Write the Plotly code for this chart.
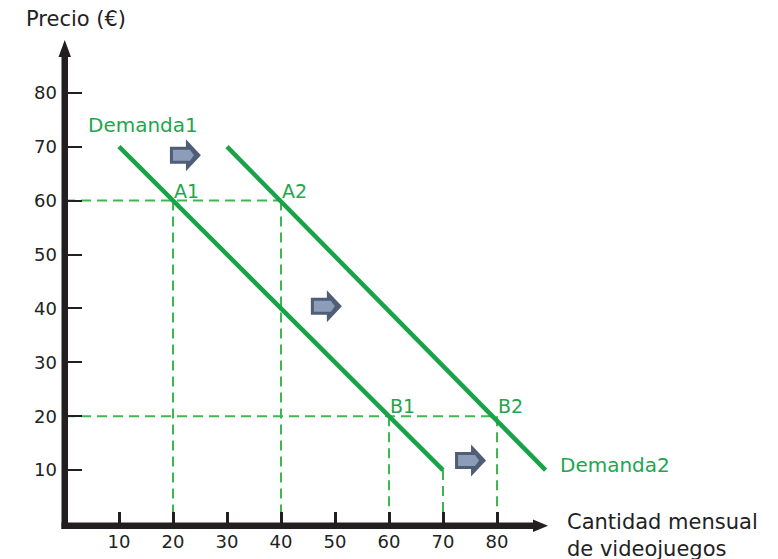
import plotly.graph_objects as go

# ---------------- data ----------------
demand1_q = [10, 70]
demand1_p = [70, 10]
demand2_q = [30, 89]
demand2_p = [70, 10]

point_names = ["A1", "A2", "B1", "B2"]
point_q = [20, 40, 60, 80]
point_p = [60, 60, 20, 20]

x_ticks = [10, 20, 30, 40, 50, 60, 70, 80]
y_ticks = [10, 20, 30, 40, 50, 60, 70, 80]

shift_arrow_q = [22.3, 48.4, 75.1]
shift_arrow_p = [68.4, 40.4, 11.8]

# ---------------- styles ----------------
LINE_GREEN = "#19a349"
DASH_GREEN = "#3cb94e"
TEXT_GREEN = "#1ea64e"
AXIS = "#231f20"
TEXT = "#222222"
FONT = "DejaVu Sans"
ARROW_DARK = "#4f5e76"
ARROW_LIGHT = "#8d9cb8"

BODY = 8  # default page body margin of the html page
W, H = 778 - BODY, 559 - BODY
PL, PT = 65, 38          # plot-area left/top in page pixels
PW, PH = 485, 486        # plot-area size
ML, MT = PL - BODY, PT - BODY
MR, MB = W - ML - PW, H - MT - PH
SX, SY = 5.4, 5.39  # px per data unit
XMAX, YMAX = PW / SX, PH / SY
BOTTOM = PT + PH


def pxx(p):
    return (p - PL) / PW


def pxy(p):
    return (BOTTOM - p) / PH


fig = go.Figure()

# dashed guide lines
levels = {}
for q, p in zip(point_q, point_p):
    levels[p] = max(levels.get(p, 0), q)
dash = dict(color=DASH_GREEN, width=2, dash="10px,6px")
for p, qmax in levels.items():
    fig.add_trace(go.Scatter(x=[0, qmax], y=[p, p], mode="lines", line=dash, hoverinfo="skip"))
for q, p in zip(point_q, point_p):
    fig.add_trace(go.Scatter(x=[q, q], y=[p, 0], mode="lines", line=dash, hoverinfo="skip"))
fig.add_trace(go.Scatter(x=[demand1_q[-1], demand1_q[-1]], y=[demand1_p[-1], 0],
                         mode="lines", line=dash, hoverinfo="skip"))

# demand curves
fig.add_trace(go.Scatter(x=demand1_q, y=demand1_p, mode="lines",
                         line=dict(color=LINE_GREEN, width=4.5), name="Demanda1"))
fig.add_trace(go.Scatter(x=demand2_q, y=demand2_p, mode="lines",
                         line=dict(color=LINE_GREEN, width=4.5), name="Demanda2"))

shapes = []
# block arrows
for cx, cy in zip(shift_arrow_q, shift_arrow_p):
    L = cx - 15.5 / SX
    N = L + 16 / SX
    T = cx + 15.5 / SX
    bh, hh = 8.5 / SY, 16 / SY
    path = (f"M {L},{cy-bh} L {N},{cy-bh} L {N},{cy-hh} L {T},{cy} "
            f"L {N},{cy+hh} L {N},{cy+bh} L {L},{cy+bh} Z")
    shapes.append(dict(type="path", path=path, xref="x", yref="y",
                       fillcolor=ARROW_DARK, line=dict(width=0)))
    il, ir, it = L + 3 / SX, N + 4 / SX, T - 7 / SX
    ih = 5.5 / SY
    ipath = (f"M {il},{cy-ih} L {ir},{cy-ih} L {it},{cy} L {ir},{cy+ih} L {il},{cy+ih} Z")
    shapes.append(dict(type="path", path=ipath, xref="x", yref="y",
                       fillcolor=ARROW_LIGHT, line=dict(width=0)))

# axis lines with arrowheads
shapes.append(dict(type="rect", xref="paper", yref="paper",
                   x0=pxx(61.5), x1=pxx(68), y0=pxy(529), y1=pxy(55),
                   fillcolor=AXIS, line=dict(width=0)))
shapes.append(dict(type="rect", xref="paper", yref="paper",
                   x0=pxx(61.5), x1=pxx(534), y0=pxy(529), y1=pxy(522.5),
                   fillcolor=AXIS, line=dict(width=0)))
shapes.append(dict(type="path", xref="paper", yref="paper",
                   path=f"M {pxx(58.5)},{pxy(57)} L {pxx(64.75)},{pxy(40)} L {pxx(71)},{pxy(57)} Z",
                   fillcolor=AXIS, line=dict(width=0)))
shapes.append(dict(type="path", xref="paper", yref="paper",
                   path=f"M {pxx(533)},{pxy(519.5)} L {pxx(548)},{pxy(525.75)} L {pxx(533)},{pxy(532)} Z",
                   fillcolor=AXIS, line=dict(width=0)))

annotations = []
for name, q, p in zip(point_names, point_q, point_p):
    annotations.append(dict(text=name, x=q, y=p, xref="x", yref="y",
                            xanchor="left", yanchor="middle", xshift=-1,
                            yshift=10,
                            showarrow=False, font=dict(family=FONT, size=19, color=TEXT_GREEN)))
annotations.append(dict(text="Demanda1", x=pxx(86), y=pxy(125), xref="paper", yref="paper",
                        xanchor="left", yanchor="middle", showarrow=False,
                        font=dict(family=FONT, size=20, color=TEXT_GREEN)))
annotations.append(dict(text="Demanda2", x=pxx(558), y=pxy(465), xref="paper", yref="paper",
                        xanchor="left", yanchor="middle", showarrow=False,
                        font=dict(family=FONT, size=20, color=TEXT_GREEN)))
annotations.append(dict(text="Precio (€)", x=pxx(24), y=pxy(19), xref="paper", yref="paper",
                        xanchor="left", yanchor="middle", showarrow=False,
                        font=dict(family=FONT, size=21, color=TEXT)))
annotations.append(dict(text="Cantidad mensual<br>de videojuegos", x=pxx(565), y=pxy(535),
                        xref="paper", yref="paper", xanchor="left", yanchor="middle",
                        align="left", showarrow=False,
                        font=dict(family=FONT, size=21, color=TEXT)))

fig.update_layout(
    width=W, height=H,
    margin=dict(l=ML, r=MR, t=MT, b=MB, pad=0, autoexpand=False),
    paper_bgcolor="white", plot_bgcolor="white",
    showlegend=False,
    shapes=shapes, annotations=annotations,
    xaxis=dict(range=[0, XMAX], showgrid=False, zeroline=False, showline=False,
               automargin=False,
               ticks="inside", ticklen=12, tickwidth=3, tickcolor=AXIS,
               tickvals=x_ticks, ticktext=[str(v) for v in x_ticks],
               tickfont=dict(family=FONT, size=18, color=TEXT), ticklabelstandoff=5),
    yaxis=dict(range=[0, YMAX], showgrid=False, zeroline=False, showline=False,
               automargin=False,
               ticks="inside", ticklen=17, tickwidth=2, tickcolor=AXIS,
               tickvals=y_ticks, ticktext=[str(v) for v in y_ticks],
               tickfont=dict(family=FONT, size=18, color=TEXT), ticklabelstandoff=7),
)

fig.write_html("out.html")
